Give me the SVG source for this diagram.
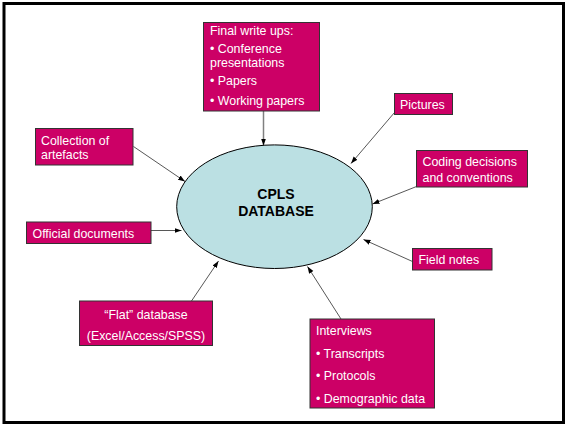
<svg xmlns="http://www.w3.org/2000/svg" width="565" height="424" viewBox="0 0 565 424">
<defs>
<style>
.box{fill:#CC0066;stroke:#333333;stroke-width:1}
.t{font-family:"Liberation Sans",Arial,sans-serif;font-size:12.4px;fill:#FFFFFF}
.c{text-anchor:middle}
.db{font-family:"Liberation Sans",Arial,sans-serif;font-size:14px;font-weight:bold;fill:#000000;text-anchor:middle}
.conn line{stroke:#444444;stroke-width:0.9;marker-end:url(#arr)}
</style>
<marker id="arr" markerUnits="userSpaceOnUse" markerWidth="8" markerHeight="6" refX="7" refY="3" orient="auto">
<path d="M0,0.5 L7,3 L0,5.5 Z" fill="#000000"/>
</marker>
</defs>
<rect x="0" y="0" width="565" height="424" fill="#FFFFFF"/>
<rect x="4" y="3.5" width="559.5" height="419" fill="none" stroke="#000000" stroke-width="3"/>

<g class="conn" id="connectors">
<line x1="263.5" y1="111" x2="263.5" y2="145.5" style="stroke:#808080;stroke-width:1.5"/>
<line x1="133.5" y1="146.5" x2="185" y2="181.5"/>
<line x1="394.5" y1="112.5" x2="351" y2="163.5"/>
<line x1="416.5" y1="186.5" x2="372.5" y2="204"/>
<line x1="412.5" y1="261.5" x2="363.5" y2="239.5"/>
<line x1="151" y1="230.5" x2="181.5" y2="230.5"/>
<line x1="191.5" y1="301" x2="218.5" y2="261"/>
<line x1="341" y1="319" x2="307.5" y2="266.5"/>
</g>

<g id="database">
<ellipse cx="274.5" cy="206.7" rx="97.8" ry="61.8" fill="#BBE0E3" stroke="#000000" stroke-width="1"/>
<text class="db" x="276" y="198.5">CPLS</text>
<text class="db" x="276" y="216">DATABASE</text>
</g>

<g id="final-write-ups">
<rect class="box" x="203.5" y="22.5" width="116" height="88.5"/>
<text class="t" x="210" y="35">Final write ups:</text>
<text class="t" x="210" y="52.5">• Conference</text>
<text class="t" x="210" y="66.5">presentations</text>
<text class="t" x="210" y="85">• Papers</text>
<text class="t" x="210" y="105">• Working papers</text>
</g>

<g id="collection">
<rect class="box" x="35.5" y="128.5" width="97.5" height="36.5"/>
<text class="t" x="41" y="145">Collection of</text>
<text class="t" x="41" y="159">artefacts</text>
</g>

<g id="pictures">
<rect class="box" x="394.5" y="93.5" width="58" height="21"/>
<text class="t" x="400" y="108.5">Pictures</text>
</g>

<g id="coding">
<rect class="box" x="416.5" y="150.5" width="111" height="36.5"/>
<text class="t" x="422.5" y="166">Coding decisions</text>
<text class="t" x="422.5" y="182">and conventions</text>
</g>

<g id="field-notes">
<rect class="box" x="412.5" y="248.5" width="79.5" height="21.5"/>
<text class="t" x="418.5" y="264">Field notes</text>
</g>

<g id="official">
<rect class="box" x="26.5" y="222" width="124.5" height="21.5"/>
<text class="t" x="32.5" y="238">Official documents</text>
</g>

<g id="flat-db">
<rect class="box" x="79.5" y="301" width="133" height="44.5"/>
<text class="t c" x="146" y="318.5">“Flat” database</text>
<text class="t c" x="146" y="340">(Excel/Access/SPSS)</text>
</g>

<g id="interviews">
<rect class="box" x="310" y="319" width="124.5" height="89"/>
<text class="t" x="316" y="334.5">Interviews</text>
<text class="t" x="316" y="358">• Transcripts</text>
<text class="t" x="316" y="380">• Protocols</text>
<text class="t" x="316" y="402.5">• Demographic data</text>
</g>
</svg>
